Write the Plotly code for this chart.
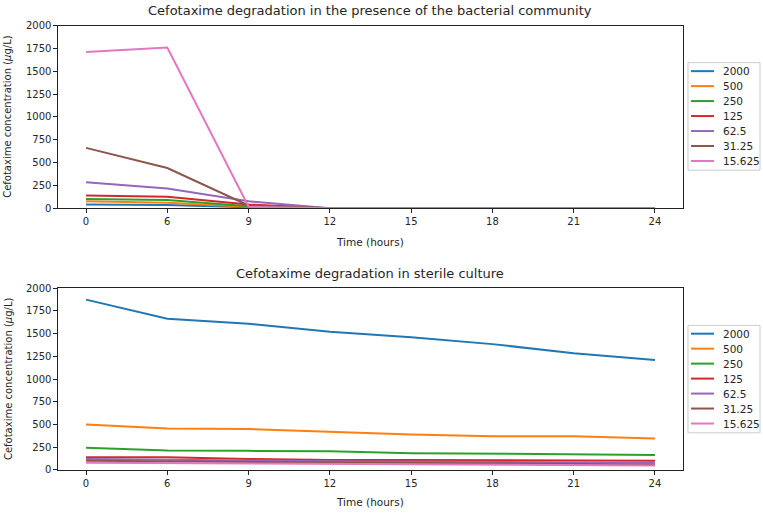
import plotly.graph_objects as go

times = ["0", "6", "9", "12", "15", "18", "21", "24"]
labels = ["2000", "500", "250", "125", "62.5", "31.25", "15.625"]
colors = ["#1f77b4", "#ff7f0e", "#2ca02c", "#d62728", "#9467bd", "#8c564b", "#e377c2"]

bact_2000 = [40, 35, 10, 0, 0, 0, 0, 0]
bact_500 = [75, 60, 15, 0, 0, 0, 0, 0]
bact_250 = [100, 90, 20, 0, 0, 0, 0, 0]
bact_125 = [140, 125, 40, 0, 0, 0, 0, 0]
bact_62_5 = [285, 215, 75, 0, 0, 0, 0, 0]
bact_31_25 = [660, 440, 30, 0, 0, 0, 0, 0]
bact_15_625 = [1710, 1760, 15, 0, 0, 0, 0, 0]

ster_2000 = [1875, 1665, 1610, 1520, 1460, 1385, 1285, 1210]
ster_500 = [500, 455, 450, 420, 390, 370, 370, 345]
ster_250 = [245, 215, 210, 205, 185, 180, 170, 165]
ster_125 = [140, 140, 120, 110, 110, 105, 100, 100]
ster_62_5 = [120, 115, 105, 95, 90, 90, 85, 80]
ster_31_25 = [100, 95, 90, 85, 80, 75, 70, 60]
ster_15_625 = [80, 75, 70, 65, 60, 60, 55, 50]

bact = [bact_2000, bact_500, bact_250, bact_125, bact_62_5, bact_31_25, bact_15_625]
ster = [ster_2000, ster_500, ster_250, ster_125, ster_62_5, ster_31_25, ster_15_625]

W, H = 763, 515
TXT = "#262626"
fig = go.Figure()
for lab, col, ys in zip(labels, colors, bact):
    fig.add_trace(go.Scatter(x=list(range(len(times))), y=ys, mode="lines", name=lab,
                             line=dict(color=col, width=2), xaxis="x", yaxis="y", showlegend=False))
for lab, col, ys in zip(labels, colors, ster):
    fig.add_trace(go.Scatter(x=list(range(len(times))), y=ys, mode="lines", name=lab,
                             line=dict(color=col, width=2), xaxis="x2", yaxis="y2", showlegend=False))

font = dict(family="DejaVu Sans", size=10, color=TXT)
ax_common = dict(showline=True, linecolor="#222", linewidth=1.2, mirror=True, ticks="outside",
                 ticklen=3.5, tickcolor="#222", showgrid=False, zeroline=False, tickfont=font)
x0, x1 = 58 / W, 683 / W
xtick = dict(tickmode="array", tickvals=list(range(len(times))), ticktext=times,
             range=[-0.345, 7.345])
ytick = dict(tickmode="linear", tick0=0, dtick=250, range=[0, 2000])

fig.update_layout(
    width=W, height=H, margin=dict(l=0, r=0, t=0, b=0),
    paper_bgcolor="white", plot_bgcolor="white", font=font,
    xaxis=dict(domain=[x0, x1], anchor="y", **xtick, **ax_common),
    yaxis=dict(domain=[1 - 207 / H, 1 - 20 / H], anchor="x", **ytick, **ax_common),
    xaxis2=dict(domain=[x0, x1], anchor="y2", **xtick, **ax_common),
    yaxis2=dict(domain=[1 - 475 / H, 1 - 289 / H], anchor="x2", **ytick, **ax_common),
    showlegend=False,
)

def px(xp, yp):
    return xp / W, 1 - yp / H

# custom legends (matplotlib-like)
for top, first in [(58, 66.7), (327, 335.5)]:
    bx0, by0 = px(688, top)
    bx1, by1 = px(760, top + 110)
    fig.add_shape(type="rect", xref="paper", yref="paper", x0=bx0, x1=bx1, y0=by1, y1=by0,
                  line=dict(color="#cccccc", width=1), fillcolor="white", layer="above")
    for i, (lab, col) in enumerate(zip(labels, colors)):
        yc = first + i * 15.33
        lx0, ly = px(691, yc)
        lx1, _ = px(714, yc)
        fig.add_shape(type="line", xref="paper", yref="paper", x0=lx0, x1=lx1, y0=ly, y1=ly,
                      line=dict(color=col, width=2), layer="above")
        tx, _ = px(721, yc)
        fig.add_annotation(text=lab, x=tx, y=ly, xref="paper", yref="paper", showarrow=False,
                           xanchor="left", yanchor="middle",
                           font=dict(family="DejaVu Sans", size=10.5, color=TXT))

ann_font = dict(family="DejaVu Sans", size=13, color=TXT)
cx = (x0 + x1) / 2
fig.add_annotation(text="Cefotaxime degradation in the presence of the bacterial community",
                   x=cx, y=1 - 5 / H, xref="paper", yref="paper", showarrow=False,
                   font=ann_font, xanchor="center", yanchor="middle")
fig.add_annotation(text="Cefotaxime degradation in sterile culture",
                   x=cx, y=1 - 274 / H, xref="paper", yref="paper", showarrow=False,
                   font=ann_font, xanchor="center", yanchor="middle")
for yc in [(20 + 207) / 2, (289 + 475) / 2]:
    fig.add_annotation(text="Cefotaxime concentration (<i>μ</i>g/L)", x=8 / W, y=1 - yc / H,
                       xref="paper", yref="paper", showarrow=False, textangle=-90,
                       font=dict(family="DejaVu Sans", size=10, color=TXT),
                       xanchor="center", yanchor="middle")
for yc in [242, 508]:
    fig.add_annotation(text="Time (hours)", x=cx, y=1 - yc / H, xref="paper", yref="paper",
                       showarrow=False, font=dict(family="DejaVu Sans", size=10.5, color=TXT),
                       xanchor="center", yanchor="middle")

fig.write_html("out.html", config={"displayModeBar": False},
               post_script="document.body.style.margin='0';document.body.style.overflow='hidden';")
